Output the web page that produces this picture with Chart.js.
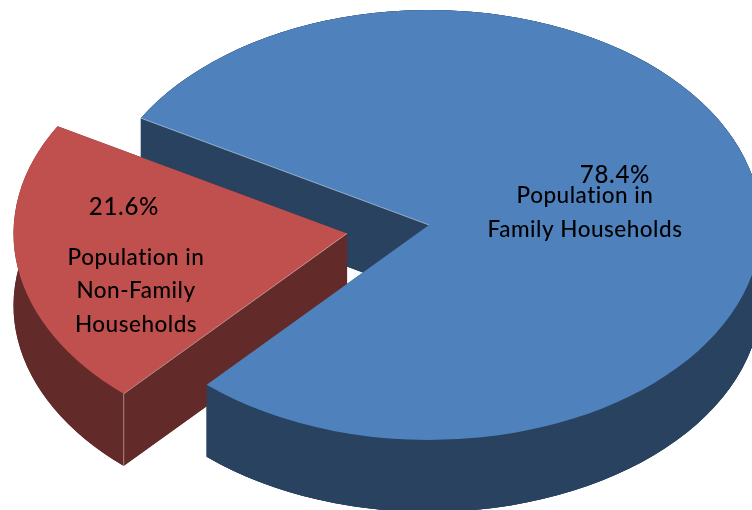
<!DOCTYPE html>
<html>
<head>
<meta charset="utf-8">
<title>Population by household type</title>
<style>
  html, body { margin: 0; padding: 0; background: #ffffff; overflow: hidden; }
  canvas { display: block; }
</style>
<script src="https://cdn.jsdelivr.net/npm/chart.js@4/dist/chart.umd.js"></script>
</head>
<body>
<canvas id="pieChart" width="752" height="510"></canvas>
<script>
var categories = ["Population in Family Households", "Population in Non-Family Households"];
var shareValues = [78.4, 21.6];
var topColors = ["#4f81bd", "#c0504d"];
var wallColors = ["#284260", "#622a28"];

// category text is wrapped by hand, same as the original
var categoryLines = [["Population in", "Family Households"], ["Population in", "Non-Family", "Households"]];
var percentSpots = [[615, 183], [124, 215]];
var categorySpots = [[[585, 203], [585, 237]], [[136, 265], [136, 298], [136, 332]]];

// fake 3D: the round pie gets flattened and given a wall
var pieCenter = [429, 225];
var pieRadius = 332;
var sliceRadii = [332, 333.5];
var flatten = 215 / 332;
var depth = 72;
var offsets = [0, 83];

function toScreen(chart, x, y) {
  return [pieCenter[0] + x - chart.width / 2, pieCenter[1] + (y - chart.height / 2) * flatten];
}

// arc.draw moves the slice by offset / 4, this gives the real slice tip
function sliceTip(arc, move) {
  var mid = (arc.startAngle + arc.endAngle) / 2;
  return [arc.x + Math.cos(mid) * move, arc.y + Math.sin(mid) * move];
}

function flatSpace(ctx, chart) {
  ctx.translate(pieCenter[0], pieCenter[1]);
  ctx.scale(1, flatten);
  ctx.translate(-chart.width / 2, -chart.height / 2);
}

function fillQuad(ctx, tip, radius, angle, drop) {
  var rx = tip[0] + Math.cos(angle) * radius;
  var ry = tip[1] + Math.sin(angle) * radius;
  ctx.beginPath();
  ctx.moveTo(tip[0], tip[1]);
  ctx.lineTo(rx, ry);
  ctx.lineTo(rx, ry + drop);
  ctx.lineTo(tip[0], tip[1] + drop);
  ctx.closePath();
  ctx.fill();
}

function edgeLine(ctx, chart, tip, radius, angle) {
  var a = toScreen(chart, tip[0], tip[1]);
  var b = toScreen(chart, tip[0] + Math.cos(angle) * radius, tip[1] + Math.sin(angle) * radius);
  ctx.strokeStyle = "rgba(255,255,255,0.45)";
  ctx.lineWidth = 1;
  ctx.beginPath();
  ctx.moveTo(a[0], a[1]);
  ctx.lineTo(b[0], b[1]);
  ctx.stroke();
  return b;
}

function drawRim(ctx, arc, tip, radius, drop) {
  ctx.beginPath();
  ctx.arc(tip[0], tip[1], radius, arc.startAngle, arc.endAngle);
  ctx.arc(tip[0], tip[1] + drop, radius, arc.endAngle, arc.startAngle, true);
  ctx.closePath();
  ctx.fill();
}

function drawWall(ctx, chart, arc, i) {
  var topOptions = arc.options;
  var tip = sliceTip(arc, offsets[i]);
  var drop = depth / flatten;

  ctx.save();
  flatSpace(ctx, chart);

  // lowered slice, the rim band and both cut faces
  arc.options = Object.assign({}, topOptions, { backgroundColor: wallColors[i] });
  ctx.save();
  ctx.translate(0, drop);
  arc.draw(ctx);
  ctx.restore();
  arc.options = topOptions;

  ctx.fillStyle = wallColors[i];
  drawRim(ctx, arc, tip, sliceRadii[i], drop);
  fillQuad(ctx, tip, sliceRadii[i], arc.startAngle, drop);
  fillQuad(ctx, tip, sliceRadii[i], arc.endAngle, drop);
  ctx.restore();
}

var pie3d = {
  id: "pie3d",
  afterDatasetsUpdate: function(chart) {
    // the library also grows an offset slice a little, take that back
    var arcs = chart.getDatasetMeta(0).data;
    for (var i = 0; i < arcs.length; i++) {
      var fix = 1 - Math.sin(Math.min(Math.PI, arcs[i].circumference));
      arcs[i].outerRadius = sliceRadii[i] - offsets[i] * fix;
    }
  },
  beforeDatasetsDraw: function(chart) {
    var ctx = chart.ctx;
    var arcs = chart.getDatasetMeta(0).data;
    var i;
    // order from the original: blue wall, red wall, blue rim again, then the tops
    for (i = 0; i < arcs.length; i++) {
      drawWall(ctx, chart, arcs[i], i);
    }
    ctx.save();
    flatSpace(ctx, chart);
    ctx.fillStyle = wallColors[0];
    drawRim(ctx, arcs[0], sliceTip(arcs[0], offsets[0]), sliceRadii[0], depth / flatten);
    ctx.restore();

    for (i = 0; i < arcs.length; i++) {
      var tip = sliceTip(arcs[i], offsets[i]);
      ctx.save();
      flatSpace(ctx, chart);
      arcs[i].draw(ctx);
      ctx.restore();

      var rim = edgeLine(ctx, chart, tip, sliceRadii[i], arcs[i].startAngle);
      if (i === 1) {
        ctx.beginPath();
        ctx.moveTo(rim[0], rim[1]);
        ctx.lineTo(rim[0], rim[1] + depth);
        ctx.stroke();
      }
    }
    return false;
  },
  afterDraw: function(chart) {
    var ctx = chart.ctx;
    ctx.save();
    ctx.fillStyle = "#000000";
    ctx.textAlign = "center";
    ctx.textBaseline = "alphabetic";
    for (var i = 0; i < shareValues.length; i++) {
      ctx.font = "500 24px Lato";
      ctx.letterSpacing = "0.7px";
      ctx.fillText(shareValues[i].toFixed(1) + "%", percentSpots[i][0], percentSpots[i][1]);
      ctx.font = "500 22.5px Lato";
      ctx.letterSpacing = "0.5px";
      for (var j = 0; j < categoryLines[i].length; j++) {
        ctx.fillText(categoryLines[i][j], categorySpots[i][j][0], categorySpots[i][j][1]);
      }
    }
    ctx.restore();
  }
};

var canvas = document.getElementById("pieChart");
var pieCtx = canvas.getContext("2d");

var chart = new Chart(pieCtx, {
  type: "pie",
  data: {
    labels: categories,
    datasets: [
      {
        data: shareValues,
        backgroundColor: topColors,
        borderWidth: 0,
        offset: [offsets[0] * 4, offsets[1] * 4],
        clip: false
      }
    ]
  },
  options: {
    responsive: false,
    animation: false,
    events: [],
    rotation: 299.8,
    radius: pieRadius,
    layout: { padding: 0 },
    plugins: {
      legend: { display: false },
      tooltip: { enabled: false },
      title: { display: false }
    }
  },
  plugins: [pie3d]
});
</script>
</body>
</html>
